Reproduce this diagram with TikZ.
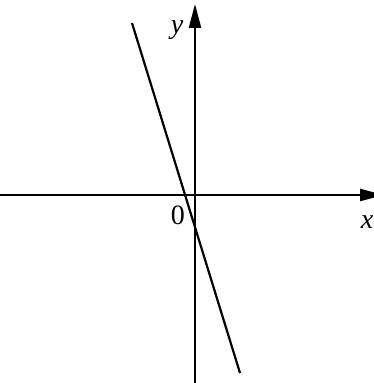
\documentclass[tikz,border=0pt]{standalone}
\usepackage{fontspec}
\setmainfont{Liberation Serif}
\usepackage{tikz}
\usetikzlibrary{arrows.meta}

\begin{document}
\begin{tikzpicture}[
    x=1pt, y=1pt,
    axis/.style={line width=2.2pt, -{Triangle[length=24pt, width=12pt]}},
    graph/.style={line width=2.2pt},
    lbl/.style={inner sep=0pt, font=\fontsize{28}{30}\selectfont},
]
    \useasboundingbox (-195,-188) rectangle (179,195);

    % Axes
    \coordinate (O) at (0,0);
    \coordinate (xstart) at (-195,0);
    \coordinate (xend) at (189,0);
    \coordinate (ystart) at (0,-188);
    \coordinate (yend) at (0,191);
    \draw[axis] (xstart) -- (xend);
    \draw[axis] (ystart) -- (yend);

    % Line
    \coordinate (ltop) at (-63,172);
    \coordinate (lbot) at (45,-178);
    \draw[graph] (ltop) -- (lbot);

    % Labels
    \node[lbl] (ylabel) at (-18,165) {\itshape y};
    \node[lbl] (olabel) at (-17,-20) {0};
    \node[lbl, anchor=east] (xlabel) at (178.5,-27) {\itshape x};
\end{tikzpicture}
\end{document}
